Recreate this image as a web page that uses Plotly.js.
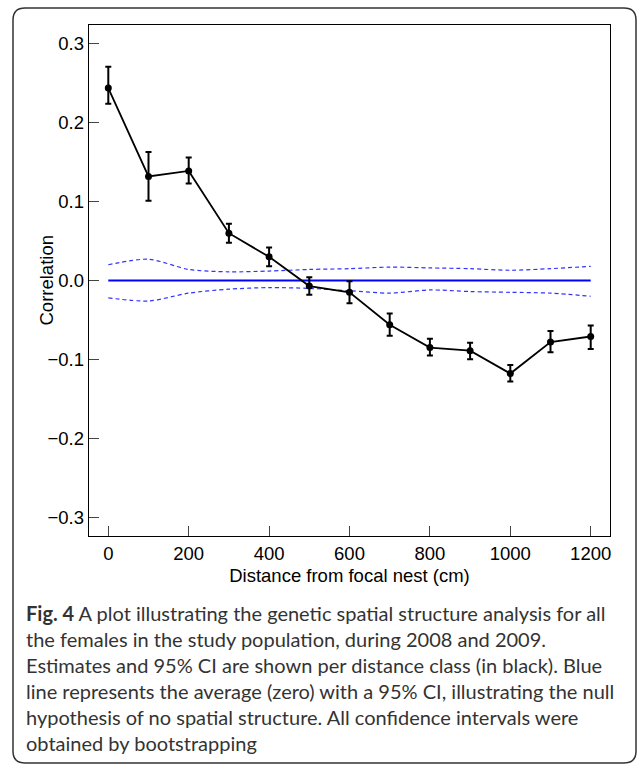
<!DOCTYPE html>
<html>
<head>
<meta charset="utf-8">
<script src="https://cdn.plot.ly/plotly-3.0.1.min.js"></script>
<style>html,body{margin:0;padding:0;background:#fff;}#chart{width:637px;height:766px;}</style>
</head>
<body>
<div id="chart"></div>
<script>
// ---- data ----
var distance = [0, 100, 200, 300, 400, 500, 600, 700, 800, 900, 1000, 1100, 1200];
var correlation = [0.244, 0.132, 0.139, 0.060, 0.030, -0.007, -0.015, -0.056, -0.085, -0.089, -0.118, -0.078, -0.071];
var ciUpper = [0.271, 0.163, 0.156, 0.072, 0.042, 0.004, -0.001, -0.042, -0.074, -0.079, -0.107, -0.064, -0.057];
var ciLower = [0.224, 0.101, 0.123, 0.048, 0.018, -0.018, -0.029, -0.070, -0.095, -0.100, -0.128, -0.091, -0.087];
var nullMean = [0, 0, 0, 0, 0, 0, 0, 0, 0, 0, 0, 0, 0];
var nullUpper = [0.020, 0.027, 0.014, 0.011, 0.012, 0.014, 0.015, 0.017, 0.016, 0.015, 0.013, 0.015, 0.018];
var nullLower = [-0.022, -0.026, -0.016, -0.011, -0.009, -0.010, -0.013, -0.016, -0.012, -0.014, -0.015, -0.016, -0.020];
var xTicks = [0, 200, 400, 600, 800, 1000, 1200];
var yTicks = [-0.3, -0.2, -0.1, 0.0, 0.1, 0.2, 0.3];
var captionLines = [
  "<b>Fig. 4</b> A plot illustrating the genetic spatial structure analysis for all",
  "the females in the study population, during 2008 and 2009.",
  "Estimates and 95% CI are shown per distance class (in black). Blue",
  "line represents the average (zero) with a 95% CI, illustrating the null",
  "hypothesis of no spatial structure. All confidence intervals were",
  "obtained by bootstrapping"
];

// ---- geometry helpers (pixel -> paper) ----
var W = 637, H = 766, mL = 89, mR = 27, mT = 25, mB = 230;
var pw = W - mL - mR, ph = H - mT - mB;
function px(x) { return (x - mL) / pw; }
function py(y) { return (H - mB - y) / ph; }

var errPlus = correlation.map(function (v, i) { return ciUpper[i] - v; });
var errMinus = correlation.map(function (v, i) { return v - ciLower[i]; });

var traces = [
  { x: distance, y: nullUpper, mode: 'lines', line: { color: '#3333ff', width: 1.2, dash: '4px,3px', shape: 'spline', smoothing: 0.8 }, hoverinfo: 'skip' },
  { x: distance, y: nullLower, mode: 'lines', line: { color: '#3333ff', width: 1.2, dash: '4px,3px', shape: 'spline', smoothing: 0.8 }, hoverinfo: 'skip' },
  { x: distance, y: nullMean, mode: 'lines', line: { color: '#0000ff', width: 2 } },
  { x: distance, y: correlation, mode: 'lines+markers',
    line: { color: '#000', width: 1.8 },
    marker: { color: '#000', size: 7 },
    error_y: { type: 'data', symmetric: false, array: errPlus, arrayminus: errMinus, color: '#000', thickness: 2, width: 3 } }
];

// rounded outer box
var bx0 = 13, bx1 = 636, by0 = 8, by1 = 763, r = 12;
function P(x, y) { return px(x) + ',' + py(y); }
var boxPath = 'M' + P(bx0 + r, by0) + ' L' + P(bx1 - r, by0) +
  ' Q' + P(bx1, by0) + ' ' + P(bx1, by0 + r) +
  ' L' + P(bx1, by1 - r) + ' Q' + P(bx1, by1) + ' ' + P(bx1 - r, by1) +
  ' L' + P(bx0 + r, by1) + ' Q' + P(bx0, by1) + ' ' + P(bx0, by1 - r) +
  ' L' + P(bx0, by0 + r) + ' Q' + P(bx0, by0) + ' ' + P(bx0 + r, by0) + ' Z';

var annotations = [{
  text: 'Correlation', xref: 'paper', yref: 'paper', x: px(46), y: 0.5,
  xanchor: 'center', yanchor: 'middle', textangle: -90, showarrow: false,
  font: { family: 'Liberation Sans, Arial, sans-serif', size: 18.5, color: '#000' }
}];
var lineCenters = [613, 639, 665, 691, 717, 743];
captionLines.forEach(function (t, i) {
  annotations.push({
    text: t, xref: 'paper', yref: 'paper', x: px(24), y: py(lineCenters[i]),
    xanchor: 'left', yanchor: 'middle', showarrow: false, align: 'left',
    font: { family: 'Lato, "Open Sans", sans-serif', size: 20, color: '#333' }
  });
});

var layout = {
  width: W, height: H,
  margin: { l: mL, r: mR, t: mT, b: mB, pad: 0 },
  paper_bgcolor: '#fff', plot_bgcolor: '#fff',
  showlegend: false,
  font: { family: 'Liberation Sans, Arial, sans-serif', size: 18.5, color: '#000' },
  xaxis: {
    range: [-48, 1248], tickvals: xTicks, ticks: 'inside', ticklen: 10, tickwidth: 1, tickcolor: '#444',
    showline: true, linecolor: '#000', linewidth: 1.3, mirror: true, showgrid: false, zeroline: false,
    title: { text: 'Distance from focal nest (cm)', font: { size: 18.5 }, standoff: 6 },
    tickfont: { size: 18.5 }
  },
  yaxis: {
    range: [-0.324, 0.324], tickvals: yTicks, tickformat: '.1f', ticks: 'inside', ticklen: 10, tickwidth: 1, tickcolor: '#444',
    showline: true, linecolor: '#000', linewidth: 1.3, mirror: true, showgrid: false, zeroline: false,
    tickfont: { size: 18.5 }
  },
  shapes: [{ type: 'path', xref: 'paper', yref: 'paper', path: boxPath, line: { color: '#333', width: 1.5 }, layer: 'below' }],
  annotations: annotations
};

Plotly.newPlot('chart', traces, layout, { displayModeBar: false, staticPlot: true });
</script>
</body>
</html>
